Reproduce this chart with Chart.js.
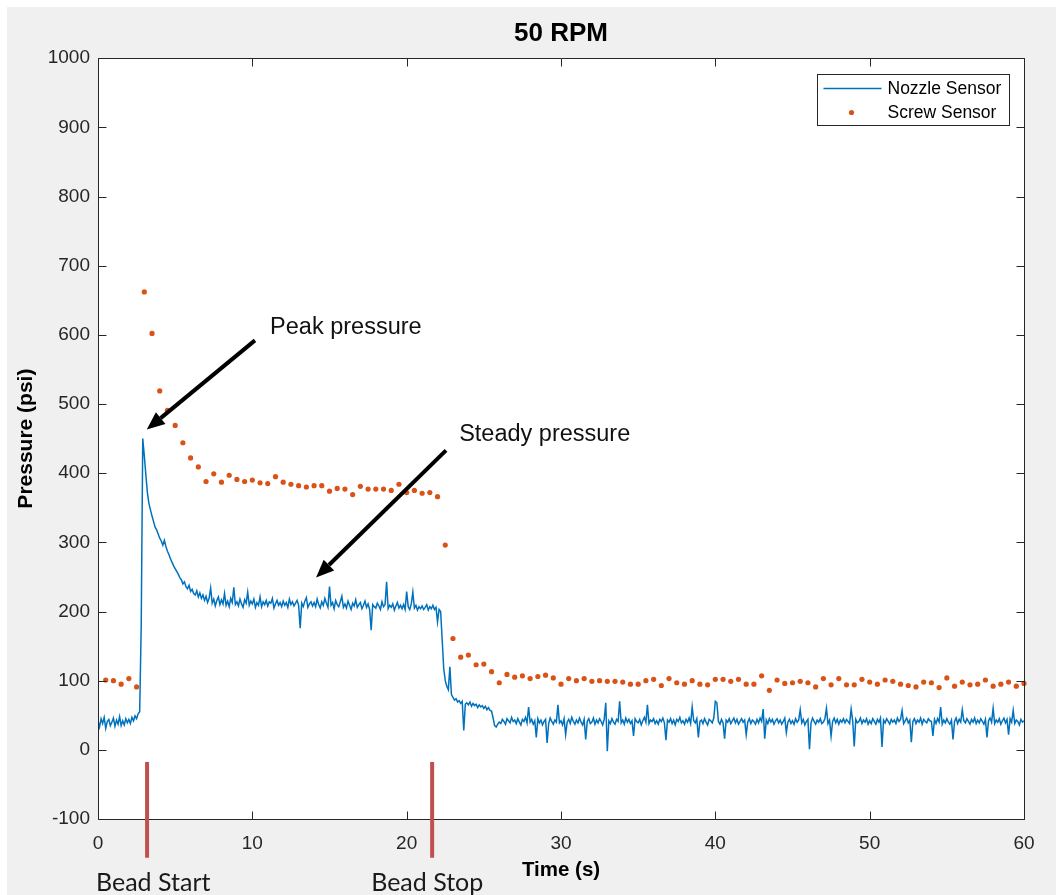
<!DOCTYPE html>
<html>
<head>
<meta charset="utf-8">
<script src="https://cdn.jsdelivr.net/npm/chart.js@4.4.1/dist/chart.umd.min.js"></script>
<style>
  html, body { margin: 0; padding: 0; background: #fff; }
  #wrap { width: 1056px; height: 895px; }
</style>
</head>
<body>
<div id="wrap"><canvas id="chart" width="1056" height="895"></canvas></div>
<script>
const chartTitle = '50 RPM';
const xTitle = 'Time (s)';
const yTitle = 'Pressure (psi)';
const seriesNames = ['Nozzle Sensor', 'Screw Sensor'];
const xTicks = [0, 10, 20, 30, 40, 50, 60];
const yTicks = [-100, 0, 100, 200, 300, 400, 500, 600, 700, 800, 900, 1000];

// nozzle sensor, sampled every 0.1 s, one row per second
const nozzleStep = 0.1;
const nozzlePsi = [
  42, 33, 45, 38, 47, 31, 41, 44, 35, 40,
  46, 34, 43, 37, 48, 35, 42, 36, 45, 39,
  44, 38, 47, 42, 49, 45, 52, 55, 180, 450,
  425, 398, 372, 356, 347, 338, 330, 322, 318, 312,
  306, 302, 296, 303, 294, 287, 282, 276, 271, 266,
  262, 258, 254, 249, 246, 240, 243, 236, 233, 238,
  229, 232, 226, 224, 230, 221, 227, 219, 224, 216,
  222, 213, 219, 234, 212, 218, 208, 216, 221, 210,
  217, 211, 226, 209, 215, 207, 219, 213, 235, 210,
  214, 208, 218, 211, 206, 217, 212, 228, 209, 215,
  211, 218, 206, 213, 209, 221, 207, 214, 210, 216,
  208, 214, 212, 219, 205, 211, 216, 209, 213, 207,
  215, 209, 213, 206, 218, 210, 214, 208, 212, 216,
  209, 176, 212, 207, 215, 220, 206, 211, 214, 208,
  213, 207, 218, 210, 205, 214, 209, 219, 212, 206,
  236, 209, 213, 204, 216, 210, 207, 214, 222, 206,
  211, 205, 215, 209, 203, 212, 208, 217, 206, 210,
  213, 204, 209, 215, 206, 211, 203, 173, 210, 207,
  205, 212, 208, 203, 214, 207, 210, 243, 204, 209,
  206, 211, 202, 208, 213, 205, 209, 204, 210, 203,
  229, 207, 203, 211, 228, 205, 209, 202, 207, 204,
  208, 203, 206, 210, 202, 207, 204, 209, 203, 206,
  185, 203, 200, 160, 118, 100, 92, 87, 120, 80,
  76, 72, 74, 69, 71, 67, 70, 28, 66, 68,
  65, 69, 63, 67, 64, 66, 61, 65, 62, 64,
  60, 63, 58, 61, 57, 56, 46, 35, 33, 37,
  40, 38, 44, 41, 37, 45, 42, 39, 47, 41,
  43, 38, 45, 40, 36, 44, 41, 47, 39, 62,
  40, 44, 37, 42, 18, 45, 39, 43, 36, 41,
  44, 10, 38, 46, 41, 37, 43, 40, 65, 39,
  42, 36, 45, 22, 40, 44, 38, 47, 41, 37,
  43, 39, 46, 40, 36, 44, 15, 41, 45, 38,
  40, 46, 37, 43, 39, 45, 41, 36, 44, 68,
  -2, 42, 38, 45, 40, 37, 44, 41, 70, 39,
  43, 37, 46, 40, 44, 38, 42, 20, 45, 41,
  39, 44, 36, 42, 47, 40, 65, 38, 43, 41,
  45, 38, 42, 37, 44, 41, 46, 39, 14, 43,
  40, 45, 38, 43, 36, 44, 41, 47, 39, 42,
  37, 44, 40, 46, 38, 62, 42, 39, 45, 18,
  41, 43, 38, 45, 40, 36, 44, 42, 39, 46,
  70, 68, 41, 37, 44, 39, 16, 43, 40, 45,
  38, 42, 46, 39, 44, 37, 41, 45, 40, 43,
  22, 40, 45, 38, 43, 41, 37, 44, 39, 46,
  41, 59, 16, 43, 38, 45, 40, 44, 37, 42,
  45, 39, 43, 37, 41, 46, 25, 40, 44, 38,
  42, 37, 45, 40, 43, 58, 39, 44, 36, 41,
  44, 1, 39, 46, 41, 37, 43, 40, 45, 38,
  40, 45, 60, 38, 43, 20, 41, 46, 39, 44,
  37, 43, 40, 45, 39, 44, 41, 38, 59, 42,
  5, 44, 39, 41, 46, 38, 43, 40, 45, 37,
  42, 38, 45, 41, 37, 44, 40, 46, 4, 43,
  39, 45, 41, 37, 44, 40, 43, 38, 46, 41,
  44, 57, 38, 42, 46, 39, 43, 11, 41, 45,
  38, 43, 40, 46, 37, 44, 41, 39, 45, 42,
  41, 20, 44, 38, 45, 40, 62, 37, 43, 39,
  45, 40, 37, 43, 15, 41, 46, 38, 44, 40,
  58, 42, 39, 45, 41, 37, 44, 40, 46, 38,
  43, 39, 45, 41, 37, 44, 18, 42, 46, 40,
  60, 38, 43, 40, 45, 37, 42, 46, 39, 44,
  22, 45, 40, 57, 38, 43, 41, 36, 44, 40,
  42
];

// screw sensor, one reading every 0.5 s starting at 0.5 s
const screwStep = 0.5;
const screwPsi = [
  101, 100, 95, 103, 91, 662, 602, 519, 491, 469,
  444, 422, 409, 388, 399, 387, 397, 391, 388, 390,
  386, 385, 395, 387, 384, 382, 380, 382, 382, 374,
  378, 377, 369, 381, 377, 377, 377, 375, 384, 372,
  375, 371, 372, 366, 296, 161, 134, 137, 123, 124,
  113, 97, 109, 105, 107, 103, 106, 108, 104, 95,
  103, 100, 103, 99, 100, 99, 99, 98, 95, 95,
  100, 102, 93, 103, 97, 95, 100, 95, 94, 102,
  102, 99, 102, 95, 95, 107, 86, 101, 96, 97,
  99, 97, 91, 103, 94, 103, 94, 94, 102, 98,
  95, 101, 99, 95, 93, 91, 98, 97, 90, 104,
  92, 98, 94, 95, 101, 92, 95, 98, 92, 96
];

// hand-drawn notes, in data units (time s, psi)
const arrowNotes = [
  { text: 'Peak pressure', textAt: [11.15, 610], from: [10.17, 592], to: [3.16, 463] },
  { text: 'Steady pressure', textAt: [23.4, 456], from: [22.55, 433], to: [14.13, 249] }
];
const beadTimes = [3.18, 21.65];
const beadLabels = ['Bead Start', 'Bead Stop'];
const beadLabelLeft = [-0.13, 17.7];

const SANS = "'Liberation Sans', Arial, sans-serif";
const AXIS_COLOR = '#262626';
const NOZZLE_COLOR = '#0072bd';
const SCREW_COLOR = '#d95319';

function drawAxesBox(chart) {
  const {ctx, chartArea: a, scales: {x, y}} = chart;
  const L = 8;
  ctx.save();
  ctx.strokeStyle = AXIS_COLOR;
  ctx.lineWidth = 1;
  ctx.beginPath();
  const left = Math.round(a.left) + 0.5, right = Math.round(a.right) + 0.5;
  const top = Math.round(a.top) + 0.5, bottom = Math.round(a.bottom) + 0.5;
  ctx.rect(left, top, right - left, bottom - top);
  xTicks.forEach(v => {
    const px = Math.round(x.getPixelForValue(v)) + 0.5;
    ctx.moveTo(px, bottom); ctx.lineTo(px, bottom - L);
    ctx.moveTo(px, top); ctx.lineTo(px, top + L);
  });
  yTicks.forEach(v => {
    const py = Math.round(y.getPixelForValue(v)) + 0.5;
    ctx.moveTo(left, py); ctx.lineTo(left + L, py);
    ctx.moveTo(right, py); ctx.lineTo(right - L, py);
  });
  ctx.stroke();
  ctx.restore();
}

function drawArrow(ctx, x0, y0, x1, y1) {
  const ang = Math.atan2(y1 - y0, x1 - x0);
  const headLen = 18, headHalf = 7.5;
  const bx = x1 - headLen * Math.cos(ang), by = y1 - headLen * Math.sin(ang);
  ctx.lineWidth = 4;
  ctx.beginPath();
  ctx.moveTo(x0, y0);
  ctx.lineTo(bx, by);
  ctx.stroke();
  ctx.beginPath();
  ctx.moveTo(x1, y1);
  ctx.lineTo(bx + headHalf * Math.sin(ang), by - headHalf * Math.cos(ang));
  ctx.lineTo(bx - headHalf * Math.sin(ang), by + headHalf * Math.cos(ang));
  ctx.closePath();
  ctx.fill();
}

function drawNotes(chart) {
  const {ctx, chartArea: a, scales: {x, y}} = chart;
  ctx.save();
  ctx.strokeStyle = '#000';
  ctx.fillStyle = '#000';
  arrowNotes.forEach(n => {
    drawArrow(ctx, x.getPixelForValue(n.from[0]), y.getPixelForValue(n.from[1]),
      x.getPixelForValue(n.to[0]), y.getPixelForValue(n.to[1]));
    ctx.font = '23.5px ' + SANS;
    ctx.textAlign = 'left';
    ctx.textBaseline = 'middle';
    ctx.fillStyle = '#111';
    ctx.fillText(n.text, x.getPixelForValue(n.textAt[0]), y.getPixelForValue(n.textAt[1]));
    ctx.fillStyle = '#000';
  });

  // bead start / stop markers below the zero line
  ctx.strokeStyle = '#c0504d';
  ctx.lineWidth = 4;
  beadTimes.forEach((t, i) => {
    const px = x.getPixelForValue(t);
    ctx.beginPath();
    ctx.moveTo(px, y.getPixelForValue(-17.5));
    ctx.lineTo(px, y.getPixelForValue(-156));
    ctx.stroke();
    ctx.font = "25px Lato, 'Open Sans', sans-serif";
    ctx.fillStyle = '#1a1a1a';
    ctx.textAlign = 'left';
    ctx.textBaseline = 'alphabetic';
    ctx.fillText(beadLabels[i], x.getPixelForValue(beadLabelLeft[i]), a.bottom + 72);
  });
  ctx.restore();
}

function drawLegend(chart) {
  const {ctx, chartArea: a} = chart;
  const w = 192, h = 51;
  const bx = Math.round(a.right - 15 - w) + 0.5, by = Math.round(a.top + 16) + 0.5;
  ctx.save();
  ctx.fillStyle = '#fff';
  ctx.fillRect(bx, by, w, h);
  ctx.strokeStyle = AXIS_COLOR;
  ctx.lineWidth = 1;
  ctx.strokeRect(bx, by, w, h);
  const row1 = by + 14, row2 = by + 38;
  ctx.strokeStyle = NOZZLE_COLOR;
  ctx.lineWidth = 1.3;
  ctx.beginPath();
  ctx.moveTo(bx + 6, row1);
  ctx.lineTo(bx + 64, row1);
  ctx.stroke();
  ctx.fillStyle = SCREW_COLOR;
  ctx.beginPath();
  ctx.arc(bx + 34, row2, 2.6, 0, Math.PI * 2);
  ctx.fill();
  ctx.fillStyle = '#000';
  ctx.font = '17.5px ' + SANS;
  ctx.textAlign = 'left';
  ctx.textBaseline = 'middle';
  ctx.fillText(seriesNames[0], bx + 70, row1 + 1);
  ctx.fillText(seriesNames[1], bx + 70, row2 + 1);
  ctx.restore();
}

const figurePlugin = {
  id: 'figure',
  beforeDraw(chart) {
    const {ctx, chartArea: a, width, height} = chart;
    ctx.save();
    ctx.fillStyle = '#ffffff';
    ctx.fillRect(0, 0, width, height);
    ctx.fillStyle = '#f0f0f0';
    ctx.fillRect(7, 7, width - 7, height - 7);
    ctx.fillStyle = '#ffffff';
    ctx.fillRect(a.left, a.top, a.right - a.left, a.bottom - a.top);
    ctx.restore();
  },
  afterDatasetsDraw(chart) {
    drawAxesBox(chart);
    drawNotes(chart);
    drawLegend(chart);
  }
};

const nozzlePoints = nozzlePsi.map((v, i) => ({ x: Math.round(i * nozzleStep * 10) / 10, y: v }));
const screwPoints = screwPsi.map((v, i) => ({ x: (i + 1) * screwStep, y: v }));

new Chart(document.getElementById('chart'), {
  type: 'line',
  data: {
    datasets: [
      {
        label: seriesNames[0],
        data: nozzlePoints,
        borderColor: NOZZLE_COLOR,
        borderWidth: 1.5,
        pointRadius: 0,
        tension: 0,
        fill: false
      },
      {
        label: seriesNames[1],
        data: screwPoints,
        showLine: false,
        pointRadius: 2.6,
        pointBorderWidth: 0,
        pointBackgroundColor: SCREW_COLOR,
        borderColor: SCREW_COLOR,
        clip: false
      }
    ]
  },
  options: {
    responsive: false,
    animation: false,
    devicePixelRatio: 1,
    parsing: false,
    layout: { padding: { top: 7, right: 32, bottom: 0, left: 0 } },
    plugins: {
      legend: { display: false },
      tooltip: { enabled: false },
      title: {
        display: true,
        text: chartTitle,
        fullSize: false,
        color: '#000',
        font: { family: SANS, size: 26, weight: 'bold' },
        padding: { top: 11, bottom: 9 }
      }
    },
    scales: {
      x: {
        type: 'linear',
        min: 0,
        max: 60,
        grid: { display: false, drawTicks: false },
        border: { display: false },
        afterBuildTicks: s => { s.ticks = xTicks.map(v => ({ value: v })); },
        afterFit: s => { s.height = 76; },
        ticks: {
          color: AXIS_COLOR,
          font: { family: SANS, size: 19 },
          padding: 13,
          maxRotation: 0,
          autoSkip: false,
          callback: v => String(v)
        },
        title: {
          display: true,
          text: xTitle,
          color: '#000',
          font: { family: SANS, size: 20.5, weight: 'bold' },
          padding: { top: 0, bottom: 12 }
        }
      },
      y: {
        type: 'linear',
        min: -100,
        max: 1000,
        grid: { display: false, drawTicks: false },
        border: { display: false },
        afterBuildTicks: s => { s.ticks = yTicks.map(v => ({ value: v })); },
        afterFit: s => { s.width = 98; },
        ticks: {
          color: AXIS_COLOR,
          font: { family: SANS, size: 19 },
          padding: 8,
          autoSkip: false,
          callback: v => String(v)
        },
        title: {
          display: true,
          text: yTitle,
          color: '#000',
          font: { family: SANS, size: 21, weight: 'bold' },
          padding: { top: 14, bottom: 0 }
        }
      }
    }
  },
  plugins: [figurePlugin]
});
</script>
</body>
</html>
